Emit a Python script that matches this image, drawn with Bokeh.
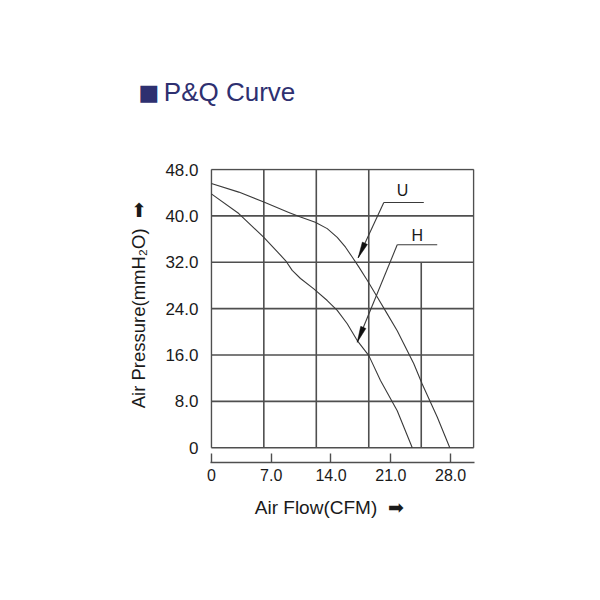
import math
from bokeh.plotting import figure
from bokeh.models import Range1d, FixedTicker, Label
from bokeh.embed import file_html
from bokeh.resources import INLINE

# ---------------- data ----------------
u_flow = [0, 3.21, 6.14, 9.06, 10.43, 12.16, 13.56, 14.73, 15.70, 16.48, 17.25, 18.24, 19.41,
          20.58, 21.75, 23.69, 24.67, 26.43, 27.9]
u_pressure = [45.6, 44.1, 42.4, 40.6, 39.8, 38.9, 37.8, 36.3, 34.6, 32.9, 31.2, 28.9, 26.0,
              23.1, 20.2, 14.5, 11.0, 5.3, 0]
h_flow = [0, 3.21, 6.14, 8.68, 9.46, 10.43, 11.99, 13.56, 14.73, 15.9, 17.07, 18.43, 19.79, 21.75, 23.51]
h_pressure = [43.8, 40.4, 36.3, 32.3, 30.6, 29.2, 27.4, 25.4, 23.7, 21.4, 18.5, 15.9, 11.6, 6.4, 0]
x_ticks = [0, 7, 14, 21, 28]
x_tick_labels = ["0", "7.0", "14.0", "21.0", "28.0"]
y_ticks = [0, 8, 16, 24, 32, 40, 48]
y_tick_labels = ["0", "8.0", "16.0", "24.0", "32.0", "40.0", "48.0"]
curve_names = ["U", "H"]
title_text = "\u25fc\u2006P&Q Curve"
x_title = "Air Flow(CFM)\u00a0\u00a0\u27a1"
y_title = "Air Pressure(mmH\u2082O)\u00a0\u00a0\u27a1"

# ---------------- geometry / style ----------------
PX_X = 8.546   # px per CFM
PX_Y = 5.798   # px per mmH2O
FRAME_W, FRAME_H = 264, 294
x0 = -0.1
y1 = 48 + 1 / PX_Y
GRID_RIGHT = 30.7
GRID_COLS = 5
GRID_C = "#4f4f4f"
CURVE_C = "#3a3a3a"
FONT = "Liberation Sans"
NAVY = "#2e3070"
NB = "\u00a0"

p = figure(width=592, height=592,
           x_range=Range1d(x0, x0 + FRAME_W / PX_X),
           y_range=Range1d(y1 - FRAME_H / PX_Y, y1),
           output_backend="svg", toolbar_location=None,
           min_border_left=210, min_border_right=592 - 210 - FRAME_W,
           min_border_top=168, min_border_bottom=592 - 168 - FRAME_H)
p.xgrid.visible = False
p.ygrid.visible = False
p.outline_line_color = None
p.background_fill_color = "white"
p.border_fill_color = "white"

# title
p.title.text = title_text
p.title.align = "left"
p.title.offset = -73
p.title.standoff = 124
p.title.text_font = FONT
p.title.text_font_size = "26px"
p.title.text_font_style = "normal"
p.title.text_color = NAVY

# x axis (separate ruler below the grid)
xa = p.xaxis[0]
xa.ticker = FixedTicker(ticks=x_ticks, minor_ticks=[])
xa.major_label_overrides = dict(zip(x_ticks, x_tick_labels))
xa.major_tick_in = 9
xa.major_tick_out = 0
xa.minor_tick_line_color = None
xa.axis_line_color = GRID_C
xa.axis_line_width = 1.4
xa.major_tick_line_color = GRID_C
xa.major_tick_line_width = 1.4
xa.major_label_standoff = 6
xa.major_label_text_font = FONT
xa.major_label_text_font_size = "16px"
xa.major_label_text_color = "#1a1a1a"
xa.axis_label = x_title + NB * 5
xa.axis_label_text_font = FONT
xa.axis_label_text_font_size = "19px"
xa.axis_label_text_font_style = "normal"
xa.axis_label_text_color = "#1a1a1a"
xa.axis_label_standoff = 13

ya = p.yaxis[0]
ya.ticker = FixedTicker(ticks=y_ticks, minor_ticks=[])
ya.major_label_overrides = dict(zip(y_ticks, y_tick_labels))
ya.axis_line_color = None
ya.major_tick_line_color = None
ya.minor_tick_line_color = None
ya.major_tick_in = 0
ya.major_tick_out = 0
ya.major_label_standoff = 12
ya.major_label_text_font = FONT
ya.major_label_text_font_size = "17px"
ya.major_label_text_color = "#1a1a1a"
ya.axis_label = NB * 4 + y_title
ya.axis_label_text_font = FONT
ya.axis_label_text_font_size = "18.5px"
ya.axis_label_text_font_style = "normal"
ya.axis_label_text_color = "#1a1a1a"
ya.axis_label_standoff = 13

# grid drawn as segments
col_w = GRID_RIGHT / GRID_COLS
vx, vy0, vy1 = [], [], []
for i in range(GRID_COLS + 1):
    vx.append(i * col_w)
    vy0.append(0)
    vy1.append(32 if i == 4 else 48)
p.segment(x0=vx, y0=vy0, x1=vx, y1=vy1, line_color=GRID_C, line_width=1.6)
p.segment(x0=[0] * len(y_ticks), y0=y_ticks, x1=[GRID_RIGHT] * len(y_ticks), y1=y_ticks,
          line_color=GRID_C, line_width=1.6)

# curves
p.line(u_flow, u_pressure, line_color=CURVE_C, line_width=1.1, line_join="round")
p.line(h_flow, h_pressure, line_color=CURVE_C, line_width=1.1, line_join="round")

# leaders with arrowheads
leaders = {
    "U": dict(hx=[20.18, 24.86], hy=42.31, tip=(17.18, 32.77), lab=(22.37, 44.38)),
    "H": dict(hx=[21.75, 26.43], hy=35.01, tip=(17.07, 18.21), lab=(24.11, 36.62)),
}
for name in curve_names:
    d = leaders[name]
    p.line(d["hx"], [d["hy"], d["hy"]], line_color=CURVE_C, line_width=1.1)
    sx, sy = d["hx"][0], d["hy"]
    tx, ty = d["tip"]
    p.line([sx, tx], [sy, ty], line_color=CURVE_C, line_width=1.1)
    dxp, dyp = (tx - sx) * PX_X, (ty - sy) * PX_Y
    L = math.hypot(dxp, dyp)
    ux, uy = dxp / L, dyp / L
    hl, hw = 16, 2.8
    bx, by = -ux * hl, -uy * hl
    nx, ny = -uy * hw, ux * hw
    xs = [tx, tx + (bx + nx) / PX_X, tx + (bx - nx) / PX_X]
    ys = [ty, ty + (by + ny) / PX_Y, ty + (by - ny) / PX_Y]
    p.patch(xs, ys, fill_color="#111111", line_color="#111111", line_width=0.5)
    p.add_layout(Label(x=d["lab"][0], y=d["lab"][1], text=name, text_align="center",
                       text_baseline="middle", text_font=FONT,
                       text_font_size="16px", text_color="#1a1a1a"))

open("out.html", "w").write(file_html(p, INLINE))
